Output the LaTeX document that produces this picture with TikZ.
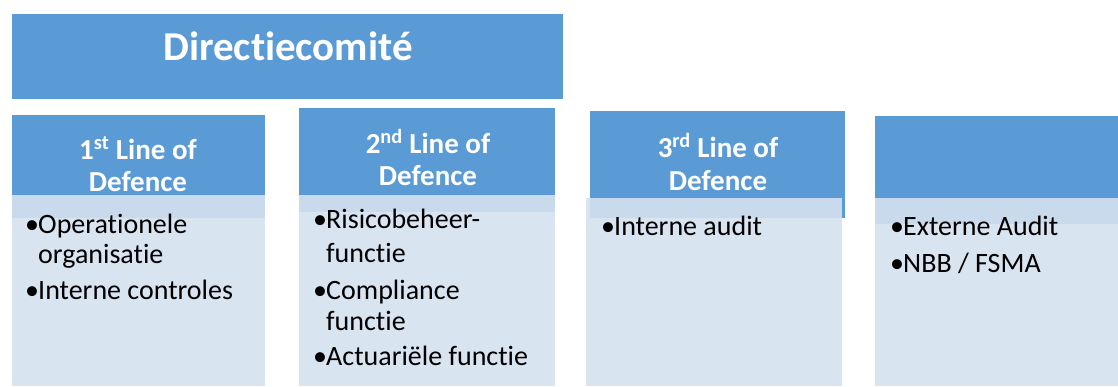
\documentclass[tikz,border=0pt]{standalone}
\usepackage{fontspec}
\setmainfont{Carlito}
\definecolor{hdrblue}{RGB}{91,155,213}
\definecolor{bodyblue}{RGB}{213,225,240}
\tikzset{
  hdrbox/.style={fill=hdrblue},
  bodybox/.style={fill=bodyblue,fill opacity=0.9},
  hdrtext/.style={inner sep=0pt,anchor=base,text=white,font=\fontsize{29}{32}\selectfont\bfseries},
  linetext/.style={inner sep=0pt,anchor=base west,text=black,font=\fontsize{28}{32}\selectfont},
}
\newcommand{\bul}{\makebox[13pt][l]{•}}
\newcommand{\nolig}{\kern0pt }
\begin{document}
\begin{tikzpicture}[x=1pt,y=-1pt]
\useasboundingbox (0,0) rectangle (1118,386);
%% top box
\fill [hdrbox] (12,14) rectangle (563,99);
\node (title) at (288,60) [hdrtext,font=\fontsize{41}{48}\selectfont\bfseries] {Direct\nolig iecomité};
%% column boxes
\fill [hdrbox] (12,115) rectangle (265,218);
\fill [bodybox] (12,195) rectangle (265,386);
\fill [hdrbox] (299,108) rectangle (555,212);
\fill [bodybox] (299,195) rectangle (555,386);
\fill [hdrbox] (590,111) rectangle (845,218);
\fill [bodybox] (586,198) rectangle (842,386);
\fill [hdrbox] (875,116) rectangle (1118,224);
\fill [bodybox] (875,198) rectangle (1118,386);
%% headers
\node (line1_a) at (138,159) [hdrtext] {1\textsuperscript{st} Line of};
  \node (line1_b) at (138,191) [hdrtext] {Defence};
\node (line2_a) at (428,153) [hdrtext] {2\textsuperscript{nd} Line of};
  \node (line2_b) at (428,185) [hdrtext] {Defence};
\node (line3_a) at (718,157) [hdrtext] {3\textsuperscript{rd} Line of};
  \node (line3_b) at (718,190) [hdrtext] {Defence};
%% items
\node (item1_a) at (25,233) [linetext] {\bul Operat\nolig ionele};
  \node (item1_b) at (38,263) [linetext] {organisat\nolig ie};
  \node (item1_c) at (25,299) [linetext] {\bul Interne controles};
\node (item2_a) at (313,228) [linetext] {\bul Risicobeheer-};
  \node (item2_b) at (326,262) [linetext] {funct\nolig ie};
  \node (item2_c) at (313,299) [linetext] {\bul Compliance};
  \node (item2_d) at (326,330) [linetext] {funct\nolig ie};
  \node (item2_e) at (313,365) [linetext] {\bul Actuariële funct\nolig ie};
\node (item3_a) at (601,235) [linetext] {\bul Interne audit};
\node (item4_a) at (890,235) [linetext] {\bul Externe Audit};
  \node (item4_b) at (890,272) [linetext] {\bul NBB / FSMA};
%
\end{tikzpicture}
\end{document}
